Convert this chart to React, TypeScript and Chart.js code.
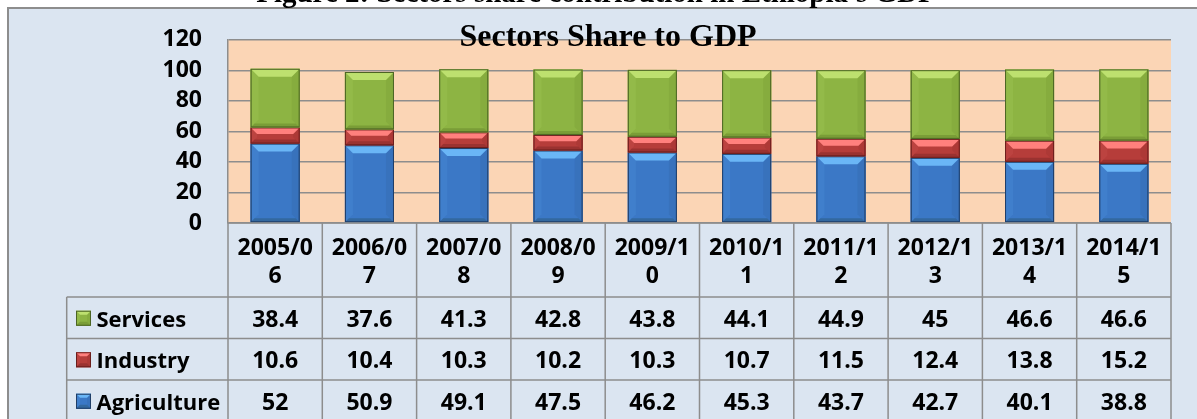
import React, { useEffect, useRef } from 'react';
import { Chart, registerables } from 'chart.js';

Chart.register(...registerables);

// ---- data ----
const categories = ['2005/06', '2006/07', '2007/08', '2008/09', '2009/10', '2010/11', '2011/12', '2012/13', '2013/14', '2014/15'];
const agriculture = [52, 50.9, 49.1, 47.5, 46.2, 45.3, 43.7, 42.7, 40.1, 38.8];
const industry = [10.6, 10.4, 10.3, 10.2, 10.3, 10.7, 11.5, 12.4, 13.8, 15.2];
const services = [38.4, 37.6, 41.3, 42.8, 43.8, 44.1, 44.9, 45, 46.6, 46.6];
const seriesNames = ['Agriculture', 'Industry', 'Services'];
const yMin = 0;
const yMax = 120;
const yStep = 20;
const chartTitle = 'Sectors Share to GDP';
const figureTitle = "Figure 2: Sectors share contribution in Ethiopia's GDP";

// ---- styles ----
type Shade = { body: string; light: string; dark: string; left: string; right: string; edge: string };
const shades: Shade[] = [
  { body: '#3b78c6', light: '#6ab6f6', dark: '#33689f', left: '#407fcc', right: '#3872bc', edge: '#1f3d66' },
  { body: '#b63d3a', light: '#ff807d', dark: '#9a3230', left: '#bc4340', right: '#ad3936', edge: '#6a1e1c' },
  { body: '#8db443', light: '#bde06f', dark: '#7a9d37', left: '#93ba49', right: '#86ac3e', edge: '#4c6424' },
];
const FONT = '"Open Sans", "DejaVu Sans", sans-serif';
const SERIF = '"Liberation Serif", "DejaVu Serif", serif';
const LINE = '#8d8d8d';
const TEXT_DY = 2.5;

function poly(ctx: CanvasRenderingContext2D, pts: number[][], color: any) {
  ctx.beginPath();
  ctx.moveTo(pts[0][0], pts[0][1]);
  for (let i = 1; i < pts.length; i++) ctx.lineTo(pts[i][0], pts[i][1]);
  ctx.closePath();
  ctx.fillStyle = color;
  ctx.fill();
}

function bevelRect(ctx: CanvasRenderingContext2D, x0: number, y0: number, x1: number, y1: number, c: Shade, maxB: number) {
  const w = x1 - x0;
  const h = y1 - y0;
  if (w <= 0 || h <= 0) return;
  const b = Math.min(maxB, h / 2.5, w / 3);
  ctx.save();
  ctx.fillStyle = c.body;
  ctx.fillRect(x0, y0, w, h);
  poly(ctx, [[x0, y0], [x0 + b, y0 + b], [x0 + b, y1 - b], [x0, y1]], c.left);
  poly(ctx, [[x1, y0], [x1 - b, y0 + b], [x1 - b, y1 - b], [x1, y1]], c.right);
  const bb = Math.min(b, 4);
  poly(ctx, [[x0, y1], [x1, y1], [x1 - bb, y1 - bb], [x0 + bb, y1 - bb]], c.dark);
  const g = ctx.createLinearGradient(0, y0, 0, y0 + b);
  g.addColorStop(0, c.light);
  g.addColorStop(1, c.light);
  poly(ctx, [[x0, y0], [x1, y0], [x1 - b, y0 + b], [x0 + b, y0 + b]], g);
  ctx.strokeStyle = c.edge;
  ctx.lineWidth = 1;
  ctx.strokeRect(x0 + 0.5, y0 + 0.5, w - 1, h - 1);
  ctx.restore();
}

function wrapChars(ctx: CanvasRenderingContext2D, text: string, maxW: number): string[] {
  const lines: string[] = [];
  let cur = '';
  for (const ch of text) {
    if (cur && ctx.measureText(cur + ch).width > maxW) {
      lines.push(cur);
      cur = ch;
    } else cur += ch;
  }
  if (cur) lines.push(cur);
  return lines;
}

const decorPlugin = {
  id: 'decor',
  beforeDraw(chart: any) {
    const { ctx, chartArea, width, height } = chart;
    ctx.save();
    ctx.fillStyle = '#ffffff';
    ctx.fillRect(0, 0, width, height);
    ctx.fillStyle = '#dbe5f1';
    ctx.fillRect(8, 8, width - 8, height - 8);
    ctx.strokeStyle = LINE;
    ctx.lineWidth = 2;
    ctx.beginPath();
    ctx.moveTo(8, height + 5);
    ctx.lineTo(8, 8);
    ctx.lineTo(width + 5, 8);
    ctx.stroke();
    ctx.fillStyle = '#fbd5b5';
    ctx.fillRect(chartArea.left, chartArea.top, chartArea.right - chartArea.left, chartArea.bottom - chartArea.top);
    ctx.restore();
  },
  afterDatasetsDraw(chart: any) {
    const ctx = chart.ctx;
    chart.data.datasets.forEach((ds: any, di: number) => {
      const meta = chart.getDatasetMeta(di);
      meta.data.forEach((el: any) => {
        const p = el.getProps(['x', 'y', 'base', 'width'], true);
        const x0 = p.x - p.width / 2;
        const x1 = p.x + p.width / 2;
        bevelRect(ctx, x0, Math.min(p.y, p.base), x1, Math.max(p.y, p.base), shades[di], 8);
      });
    });
  },
  afterDraw(chart: any) {
    const { ctx, chartArea, scales } = chart;
    const xs = scales.x;
    const n = categories.length;
    const colW = (chartArea.right - chartArea.left) / n;
    const top = chartArea.bottom;
    const headerBottom = top + 74;
    const rowH = 41.5;
    const tableBottom = headerBottom + rowH * 3;
    const legendLeft = 66.7;
    ctx.save();
    // grid of the table
    ctx.strokeStyle = LINE;
    ctx.lineWidth = 1.5;
    ctx.beginPath();
    for (let i = 0; i <= n; i++) {
      const x = i === n ? chartArea.right : xs.getPixelForValue(i) - colW / 2;
      ctx.moveTo(x, top);
      ctx.lineTo(x, tableBottom);
    }
    ctx.moveTo(legendLeft, headerBottom);
    ctx.lineTo(legendLeft, tableBottom);
    for (let r = 0; r <= 3; r++) {
      const y = headerBottom + r * rowH;
      ctx.moveTo(legendLeft, y);
      ctx.lineTo(chartArea.right, y);
    }
    ctx.moveTo(chartArea.left, top);
    ctx.lineTo(chartArea.right, top);
    ctx.stroke();

    // header labels
    ctx.fillStyle = '#000';
    ctx.font = `bold 23px ${FONT}`;
    ctx.textAlign = 'center';
    ctx.textBaseline = 'middle';
    const lineH = 28.7;
    categories.forEach((c, i) => {
      const cx = xs.getPixelForValue(i);
      const lines = wrapChars(ctx, c, colW - 12);
      const cy = (top + headerBottom) / 2 + TEXT_DY;
      lines.forEach((ln, k) => {
        ctx.fillText(ln, cx, cy + (k - (lines.length - 1) / 2) * lineH);
      });
    });

    // rows: Services, Industry, Agriculture
    const rows = [
      { name: seriesNames[2], data: services, shade: shades[2] },
      { name: seriesNames[1], data: industry, shade: shades[1] },
      { name: seriesNames[0], data: agriculture, shade: shades[0] },
    ];
    rows.forEach((row, r) => {
      const cy = headerBottom + r * rowH + rowH / 2;
      bevelRect(ctx, 76, cy - 7, 91, cy + 8, row.shade, 4);
      ctx.fillStyle = '#000';
      ctx.textAlign = 'left';
      ctx.font = `bold 22px ${FONT}`;
      ctx.fillText(row.name, 96.5, cy + TEXT_DY);
      ctx.textAlign = 'center';
      ctx.font = `bold 23px ${FONT}`;
      row.data.forEach((v, i) => {
        ctx.fillText(String(v), xs.getPixelForValue(i), cy + TEXT_DY);
      });
    });

    // chart title
    ctx.fillStyle = '#000';
    ctx.textAlign = 'center';
    ctx.textBaseline = 'alphabetic';
    ctx.font = `bold 32px ${SERIF}`;
    ctx.fillText(chartTitle, 608, 45.5);

    // figure caption (mostly cut off at top)
    ctx.font = `bold 29px ${SERIF}`;
    ctx.fillText(figureTitle, 596, 2);
    ctx.restore();
  },
};

export default function App() {
  const ref = useRef<HTMLCanvasElement | null>(null);
  useEffect(() => {
    document.body.style.margin = '0';
    const canvas = ref.current;
    if (!canvas) return;
    const series = [agriculture, industry, services];
    const chart = new Chart(canvas, {
      type: 'bar',
      data: {
        labels: categories,
        datasets: series.map((d, i) => ({
          label: seriesNames[i],
          data: d,
          backgroundColor: shades[i].body,
          borderWidth: 0,
          categoryPercentage: 1,
          barPercentage: 0.52,
        })),
      },
      options: {
        responsive: false,
        animation: false,
        devicePixelRatio: 1,
        layout: { padding: { left: 0, top: 39, right: 26, bottom: 196 } },
        plugins: { legend: { display: false }, title: { display: false }, tooltip: { enabled: false } },
        scales: {
          x: { stacked: true, display: false, offset: true },
          y: {
            stacked: true,
            min: yMin,
            max: yMax,
            afterFit: (s: any) => { s.width = 228; },
            ticks: { stepSize: yStep, padding: 26, color: '#000', font: { family: FONT, weight: 'bold', size: 23 } },
            grid: { color: LINE, lineWidth: 1.5, drawTicks: false },
            border: { display: true, color: LINE, width: 1.5 },
          },
        },
      },
      plugins: [decorPlugin],
    } as any);
    return () => chart.destroy();
  }, []);
  return <canvas ref={ref} width={1197} height={419} style={{ display: 'block' }} />;
}
